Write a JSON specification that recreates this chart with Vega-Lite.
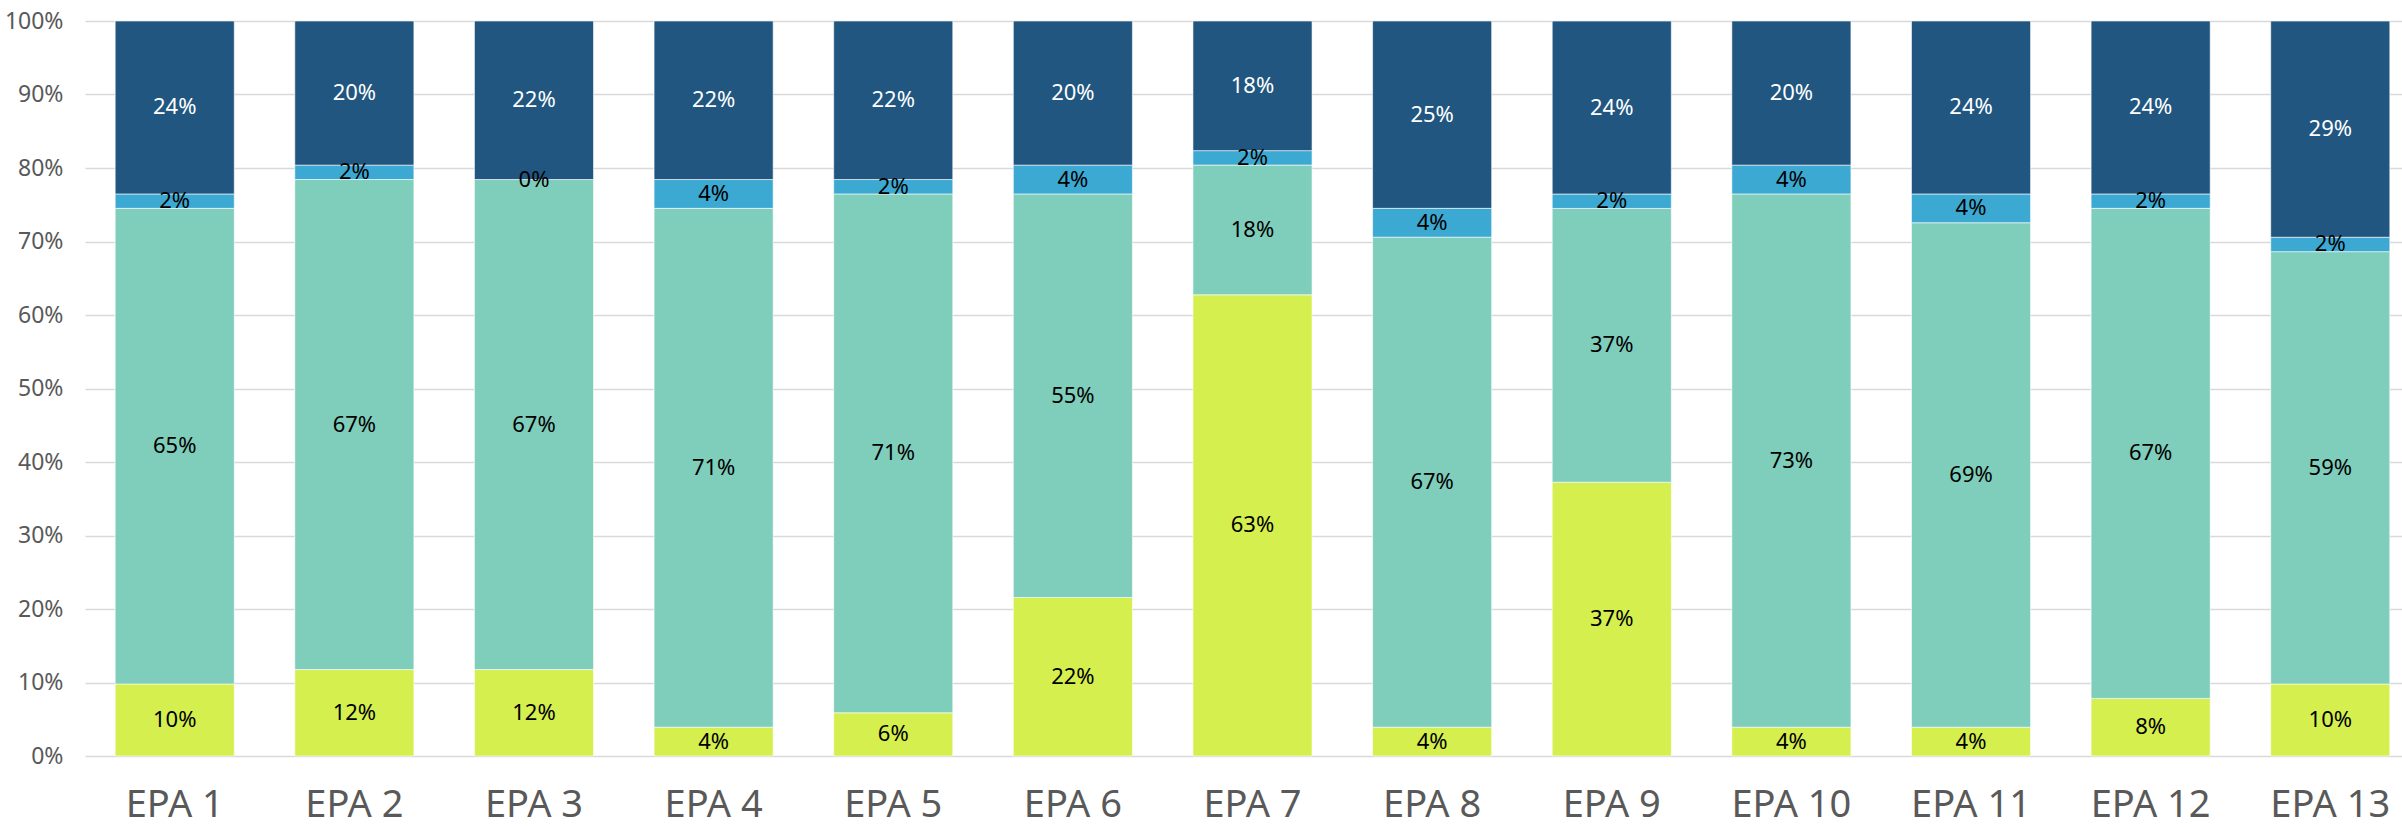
{
  "$schema": "https://vega.github.io/schema/vega-lite/v6.json",
  "width": 2335,
  "height": 735,
  "autosize": {"type": "none"},
  "padding": {"left": 85, "top": 21, "right": 0, "bottom": 71},
  "background": "white",
  "config": {"view": {"stroke": null}, "font": "Noto Sans"},
  "data": {"values": [
    {"epa": "EPA 1", "cat": "a", "k": 1, "value": 0.0980},
    {"epa": "EPA 1", "cat": "b", "k": 2, "value": 0.6471},
    {"epa": "EPA 1", "cat": "c", "k": 3, "value": 0.0196},
    {"epa": "EPA 1", "cat": "d", "k": 4, "value": 0.2353},
    {"epa": "EPA 2", "cat": "a", "k": 1, "value": 0.1176},
    {"epa": "EPA 2", "cat": "b", "k": 2, "value": 0.6667},
    {"epa": "EPA 2", "cat": "c", "k": 3, "value": 0.0196},
    {"epa": "EPA 2", "cat": "d", "k": 4, "value": 0.1961},
    {"epa": "EPA 3", "cat": "a", "k": 1, "value": 0.1176},
    {"epa": "EPA 3", "cat": "b", "k": 2, "value": 0.6667},
    {"epa": "EPA 3", "cat": "c", "k": 3, "value": 0.0},
    {"epa": "EPA 3", "cat": "d", "k": 4, "value": 0.2157},
    {"epa": "EPA 4", "cat": "a", "k": 1, "value": 0.0392},
    {"epa": "EPA 4", "cat": "b", "k": 2, "value": 0.7059},
    {"epa": "EPA 4", "cat": "c", "k": 3, "value": 0.0392},
    {"epa": "EPA 4", "cat": "d", "k": 4, "value": 0.2157},
    {"epa": "EPA 5", "cat": "a", "k": 1, "value": 0.0588},
    {"epa": "EPA 5", "cat": "b", "k": 2, "value": 0.7059},
    {"epa": "EPA 5", "cat": "c", "k": 3, "value": 0.0196},
    {"epa": "EPA 5", "cat": "d", "k": 4, "value": 0.2157},
    {"epa": "EPA 6", "cat": "a", "k": 1, "value": 0.2157},
    {"epa": "EPA 6", "cat": "b", "k": 2, "value": 0.5490},
    {"epa": "EPA 6", "cat": "c", "k": 3, "value": 0.0392},
    {"epa": "EPA 6", "cat": "d", "k": 4, "value": 0.1961},
    {"epa": "EPA 7", "cat": "a", "k": 1, "value": 0.6275},
    {"epa": "EPA 7", "cat": "b", "k": 2, "value": 0.1765},
    {"epa": "EPA 7", "cat": "c", "k": 3, "value": 0.0196},
    {"epa": "EPA 7", "cat": "d", "k": 4, "value": 0.1765},
    {"epa": "EPA 8", "cat": "a", "k": 1, "value": 0.0392},
    {"epa": "EPA 8", "cat": "b", "k": 2, "value": 0.6667},
    {"epa": "EPA 8", "cat": "c", "k": 3, "value": 0.0392},
    {"epa": "EPA 8", "cat": "d", "k": 4, "value": 0.2549},
    {"epa": "EPA 9", "cat": "a", "k": 1, "value": 0.3725},
    {"epa": "EPA 9", "cat": "b", "k": 2, "value": 0.3725},
    {"epa": "EPA 9", "cat": "c", "k": 3, "value": 0.0196},
    {"epa": "EPA 9", "cat": "d", "k": 4, "value": 0.2353},
    {"epa": "EPA 10", "cat": "a", "k": 1, "value": 0.0392},
    {"epa": "EPA 10", "cat": "b", "k": 2, "value": 0.7255},
    {"epa": "EPA 10", "cat": "c", "k": 3, "value": 0.0392},
    {"epa": "EPA 10", "cat": "d", "k": 4, "value": 0.1961},
    {"epa": "EPA 11", "cat": "a", "k": 1, "value": 0.0392},
    {"epa": "EPA 11", "cat": "b", "k": 2, "value": 0.6863},
    {"epa": "EPA 11", "cat": "c", "k": 3, "value": 0.0392},
    {"epa": "EPA 11", "cat": "d", "k": 4, "value": 0.2353},
    {"epa": "EPA 12", "cat": "a", "k": 1, "value": 0.0784},
    {"epa": "EPA 12", "cat": "b", "k": 2, "value": 0.6667},
    {"epa": "EPA 12", "cat": "c", "k": 3, "value": 0.0196},
    {"epa": "EPA 12", "cat": "d", "k": 4, "value": 0.2353},
    {"epa": "EPA 13", "cat": "a", "k": 1, "value": 0.0980},
    {"epa": "EPA 13", "cat": "b", "k": 2, "value": 0.5882},
    {"epa": "EPA 13", "cat": "c", "k": 3, "value": 0.0196},
    {"epa": "EPA 13", "cat": "d", "k": 4, "value": 0.2941}
  ]},
  "transform": [
    {"stack": "value", "groupby": ["epa"], "sort": [{"field": "k", "order": "ascending"}], "as": ["v0", "v1"]},
    {"calculate": "(datum.v0 + datum.v1) / 2", "as": "mid"}
  ],
  "encoding": {
    "x": {
      "field": "epa",
      "type": "nominal",
      "sort": null,
      "title": null,
      "scale": {"paddingInner": 0.337, "paddingOuter": 0.168},
      "axis": {
        "domain": false,
        "ticks": false,
        "labelAngle": 0,
        "labelFontSize": 38,
        "labelColor": "#595959",
        "labelBaseline": "alphabetic",
        "labelPadding": 60,
        "labelFont": "Noto Sans"
      }
    }
  },
  "layer": [
    {
      "mark": {"type": "bar", "stroke": "white", "strokeWidth": 0.6},
      "encoding": {
        "y": {
          "field": "v0",
          "type": "quantitative",
          "title": null,
          "scale": {"domain": [0, 1], "nice": false, "clamp": true},
          "axis": {
            "format": ".0%",
            "values": [0, 0.1, 0.2, 0.3, 0.4, 0.5, 0.6, 0.7, 0.8, 0.9, 1],
            "domain": false,
            "ticks": false,
            "grid": true,
            "gridColor": "#d9d9d9",
            "gridWidth": 1.5,
            "labelFontSize": 23,
            "labelColor": "#595959",
            "labelPadding": 22,
            "labelFont": "Noto Sans"
          }
        },
        "y2": {"field": "v1"},
        "color": {
          "field": "cat",
          "type": "nominal",
          "legend": null,
          "scale": {"domain": ["a", "b", "c", "d"], "range": ["#d5ef4e", "#7fcdbb", "#3ca9d3", "#20567f"]}
        }
      }
    },
    {
      "mark": {"type": "text", "fontSize": 22, "font": "Noto Sans", "baseline": "middle", "align": "center"},
      "encoding": {
        "y": {"field": "mid", "type": "quantitative"},
        "text": {"field": "value", "type": "quantitative", "format": ".0%"},
        "color": {"condition": {"test": "datum.cat === 'd'", "value": "white"}, "value": "black"}
      }
    }
  ]
}
